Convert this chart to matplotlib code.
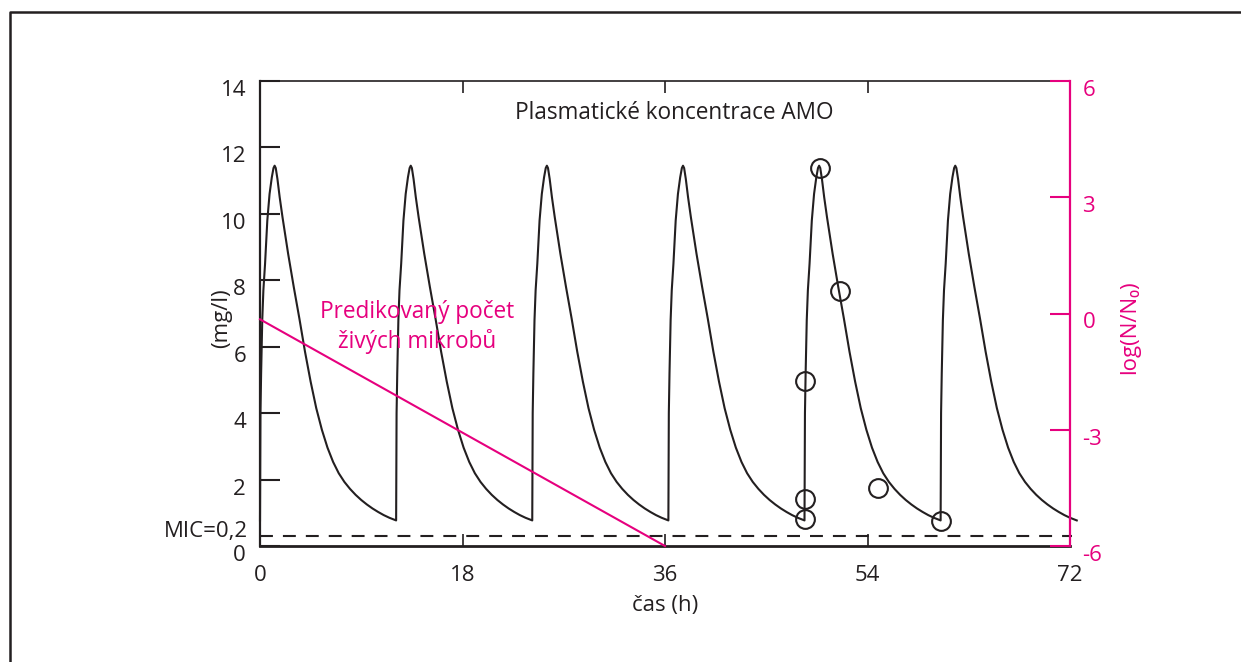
import numpy as np
import matplotlib
matplotlib.use("Agg")
import matplotlib.pyplot as plt
from matplotlib.lines import Line2D
from matplotlib.transforms import ScaledTranslation

plt.rcParams['font.family'] = ['Open Sans', 'DejaVu Sans']
plt.rcParams['axes.unicode_minus'] = False

PINK = "#E6007E"
BLACK = "#231F20"

# one dosing interval (hours after dose, mg/l)
profile_dt = [0, 0.04, 0.1, 0.2, 0.3, 0.45, 0.65, 0.85, 1.05, 1.2, 1.3, 1.4, 1.55, 1.75, 2.0,
              2.5, 3.0, 3.5, 4.0, 4.5, 5.0, 5.5, 6.0, 6.5, 7.0, 7.5, 8.0, 8.5, 9.0,
              9.5, 10.0, 10.5, 11.0, 11.5, 12.1]
profile_c = [0.77, 4.0, 5.2, 6.8, 7.7, 8.5, 9.8, 10.6, 11.1, 11.38, 11.45, 11.38, 11.05, 10.5, 9.9,
             8.8, 7.8, 6.85, 5.85, 4.95, 4.15, 3.5, 2.96, 2.53, 2.19, 1.93, 1.72, 1.54, 1.385,
             1.25, 1.13, 1.025, 0.93, 0.85, 0.77]
dose_times = [0, 12.1, 24.2, 36.3, 48.4, 60.5]

# measured concentrations (circles)
meas_t = [48.4, 48.4, 48.45, 49.8, 51.55, 54.95, 60.5]
meas_c = [0.81, 1.41, 4.97, 11.38, 7.69, 1.76, 0.76]

# predicted log(N/N0)
pred_t = [0, 36]
pred_log = [-0.15, -6]

mic = 0.3
x_ticks = [0, 18, 36, 54, 72]
y_ticks = [0, 2, 4, 6, 8, 10, 12, 14]
y2_ticks = [-6, -3, 0, 3, 6]

fig = plt.figure(figsize=(12.41, 6.62), dpi=100)
ax = fig.add_axes((260 / 1241, 1 - 546 / 662, 810 / 1241, 465 / 662))
ax2 = ax.twinx()

t_all = np.concatenate([d + np.array(profile_dt) for d in dose_times])
c_all = np.concatenate([np.array(profile_c) for d in dose_times])
ax.plot(t_all, c_all, color=BLACK, lw=1.5, clip_on=False, zorder=3)
ax.plot(meas_t, meas_c, 'o', ms=13.5, mfc='none', mec=BLACK, mew=1.5, zorder=4)
ax.plot([0, 72.2], [mic, mic], color=BLACK, lw=1.5, ls=(0, (6.2, 4.8)), clip_on=False)

ax.set_xlim(0, 72)
ax.set_ylim(0, 14)
ax.set_xticks(x_ticks)
ax.set_yticks(y_ticks)
ax.tick_params(axis='x', direction='in', length=8.6, width=1.2, top=True,
               labelsize=16, pad=14, colors=BLACK)
ax.tick_params(axis='y', direction='in', length=14.4, width=1.5,
               labelsize=16, pad=10, colors=BLACK)
ax.spines['left'].set_linewidth(1.6)
ax.spines['bottom'].set_linewidth(2.0)
ax.spines['top'].set_linewidth(1.2)
ax.spines['right'].set_visible(False)
for s in ax.spines.values():
    s.set_color(BLACK)

ax.set_xlabel("čas (h)", fontsize=16, color=BLACK, labelpad=6)
ax.set_ylabel("(mg/l)", fontsize=16, color=BLACK)
ax.yaxis.set_label_coords(-0.047, 0.49)
ax.yaxis.label.set_va('center')

ax.annotate("MIC=0,2", xy=(0, mic), xycoords=('axes fraction', 'data'),
            xytext=(-12, 5), textcoords='offset pixels', ha='right', va='center',
            fontsize=16, color=BLACK)

ax.text(0.512, 0.931, "Plasmatické koncentrace AMO", transform=ax.transAxes,
        ha='center', va='center', fontsize=16.3, color=BLACK)

# predicted microbes
ax2.plot(pred_t, pred_log, color=PINK, lw=1.5, clip_on=False)
ax2.set_ylim(-6, 6)
ax2.set_yticks(y2_ticks)
ax2.tick_params(axis='y', direction='in', length=14.4, width=1.5, labelsize=16,
                pad=9, colors=PINK)
for k in ['left', 'top', 'bottom']:
    ax2.spines[k].set_visible(False)
ax2.spines['right'].set_color(PINK)
ax2.spines['right'].set_linewidth(1.6)
ax2.set_ylabel("log(N/N₀)", fontsize=16, color=PINK)
ax2.yaxis.set_label_coords(1.074, 0.471)
ax2.yaxis.label.set_va('center')

ax.text(0.194, 0.471, "Predikovaný počet\nživých mikrobů", transform=ax.transAxes,
        ha='center', va='center', fontsize=16.3, color=PINK, linespacing=1.3)

# labels sit a little below their ticks in the original
shift = ScaledTranslation(0, -7 / 100, fig.dpi_scale_trans)
for lbl in ax.get_yticklabels() + ax2.get_yticklabels():
    lbl.set_transform(lbl.get_transform() + shift)

# page frame
fx = 9.5 / 1241
fy = 1 - 12 / 662
fig.add_artist(Line2D([fx, fx, 1], [0, fy, fy], transform=fig.transFigure,
                      color=BLACK, lw=1.8))

fig.savefig("out.png", dpi=100)
